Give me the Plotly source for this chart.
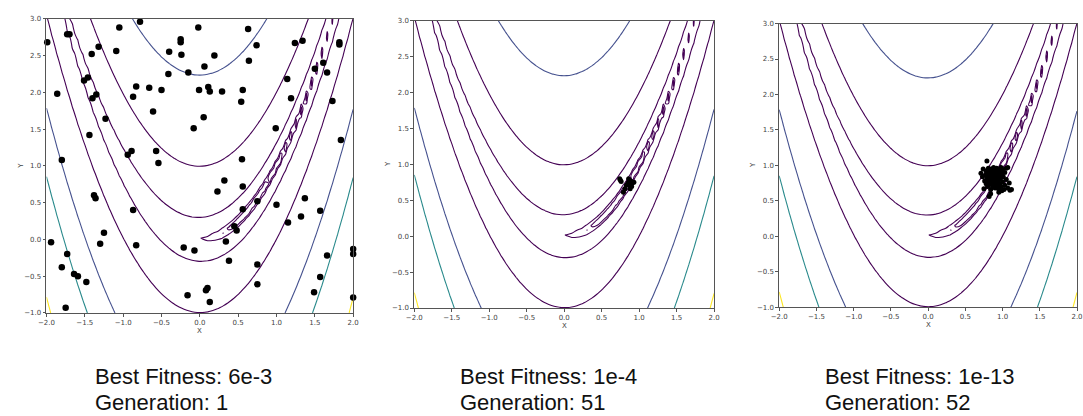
import numpy as np
import plotly.graph_objects as go

# contour levels and their viridis colours
levels = [0.5, 1, 10, 100, 500, 1000, 2300]
level_colors = ["#440154", "#440154", "#440154", "#440154", "#46528f", "#2a8a8c", "#fde725"]

# population, generation 1
gen1_x = [-1.99, -1.73, -1.70, -1.86, -1.80, -1.94, -1.73, -1.80, -1.64, -1.59, -1.75, -1.48,
          -1.51, -1.46, -1.41, -1.32, -1.40, -1.35, -1.23, -1.44, -1.38, -1.36, -1.25, -1.30,
          -1.05, -1.09, -0.78, -0.83, -0.87, -0.89, -0.94, -0.87, -0.83, -0.66, -0.50, -0.61,
          -0.57, -0.54, -0.40, -0.25, -0.25, -0.24, -0.41, -0.15, -0.02, 0.06, -0.01, 0.11,
          0.13, -0.08, 0.05, 0.19, 0.29, 0.63, 0.64, 0.74, 0.54, 0.56, 0.55, 0.56, 0.32, 0.23,
          0.56, 0.75, 0.45, 0.48, 0.34, 0.38, -0.21, -0.07, -0.16, 0.10, 0.08, 0.13, 0.75, 0.75,
          0.99, 1.00, 1.14, 1.19, 1.24, 1.34, 1.15, 1.32, 1.37, 1.50, 1.61, 1.66, 1.73, 1.82,
          1.82, 2.06, 1.57, 1.66, 1.57, 1.49, 1.84, 2.00, 2.00, 2.00]
gen1_y = [2.68, 2.79, 2.79, 1.98, 1.08, -0.04, -0.20, -0.38, -0.47, -0.50, -0.93, -0.58,
          2.16, 2.20, 2.52, 2.62, 1.92, 1.97, 1.64, 1.42, 0.60, 0.56, 0.09, -0.06,
          2.88, 2.56, 2.96, 2.08, 1.94, 1.20, 1.15, 0.40, -0.08, 2.06, 2.03, 1.74,
          1.20, 1.04, 2.55, 2.72, 2.68, 2.51, 2.25, 2.27, 2.88, 2.35, 2.03, 2.07,
          2.01, 1.51, 1.66, 2.50, 2.01, 2.86, 2.43, 2.64, 1.87, 2.03, 1.09, 0.72, 0.80, 0.65,
          0.41, 0.52, 0.18, 0.12, -0.03, -0.29, -0.11, -0.15, -0.76, -0.66, -0.69, -0.85, -0.34, -0.61,
          1.51, 0.47, 2.18, 1.92, 2.67, 2.70, 0.23, 0.31, 0.56, 2.32, 2.40, 2.27, 1.88, 2.68,
          2.65, 2.74, 0.39, -0.22, -0.51, -0.72, 1.35, -0.13, -0.20, -0.79]

# population, generation 51
gen51_x = [0.74, 0.75, 0.76, 0.79, 0.81, 0.83, 0.85, 0.86, 0.87, 0.88, 0.89, 0.90, 0.91, 0.93, 0.88]
gen51_y = [0.80, 0.78, 0.76, 0.61, 0.66, 0.71, 0.74, 0.80, 0.76, 0.71, 0.77, 0.69, 0.74, 0.75, 0.66]

# population, generation 52
gen52_x = [0.79, 0.71, 0.73, 0.74, 0.75, 0.76, 0.77, 0.78, 0.78, 0.79, 0.80, 0.80, 0.81, 0.81,
           0.82, 0.82, 0.83, 0.83, 0.84, 0.84, 0.85, 0.85, 0.86, 0.86, 0.87, 0.87, 0.88, 0.88,
           0.89, 0.89, 0.90, 0.90, 0.91, 0.91, 0.92, 0.92, 0.93, 0.93, 0.94, 0.94, 0.95, 0.95,
           0.96, 0.96, 0.97, 0.98, 0.98, 0.99, 1.00, 1.00, 1.01, 1.02, 1.03, 1.03, 1.05, 1.05,
           1.07, 1.07, 1.09, 1.10, 1.12, 0.84, 0.95, 0.99]
gen52_y = [1.06, 0.89, 0.84, 0.95, 0.67, 0.78, 0.86, 0.92, 0.74, 0.81, 0.88, 0.70, 0.96, 0.77,
           0.56, 0.84, 0.91, 0.73, 0.80, 0.66, 0.87, 0.95, 0.76, 0.83, 0.70, 0.90, 0.79, 0.97,
           0.85, 0.73, 0.92, 0.68, 0.81, 0.88, 0.75, 0.96, 0.84, 0.70, 0.90, 0.78, 0.86, 0.66,
           0.93, 0.74, 0.81, 0.97, 0.70, 0.88, 0.77, 0.94, 0.84, 0.66, 0.90, 0.72, 0.96, 0.80,
           0.97, 0.68, 0.75, 0.65, 0.66, 0.60, 0.62, 0.64]

best_fitness = ["6e-3", "1e-4", "1e-13"]
generations = [1, 51, 52]

x_ticks = [-2.0, -1.5, -1.0, -0.5, 0.0, 0.5, 1.0, 1.5, 2.0]
x_ticktext = ["\u22122.0", "\u22121.5", "\u22121.0", "\u22120.5", "0.0", "0.5", "1.0", "1.5", "2.0"]
y_ticks = [-1.0, -0.5, 0.0, 0.5, 1.0, 1.5, 2.0, 2.5, 3.0]
y_ticktext = ["\u22121.0", "\u22120.5", "0.0", "0.5", "1.0", "1.5", "2.0", "2.5", "3.0"]

# Rosenbrock surface on a 60x60 grid
grid_n = 60
grid_x = np.linspace(-2.0, 2.0, grid_n)
grid_y = np.linspace(-1.0, 3.0, grid_n)
GX, GY = np.meshgrid(grid_x, grid_y)
Z = (1 - GX) ** 2 + 100 * (GY - GX ** 2) ** 2

W, H = 1083, 416
# plot-area boxes in pixels: left, right, top, bottom
panels = [(38, 349, 15, 315), (411, 715, 17, 310), (781, 1083, 20, 309)]
populations = [(gen1_x, gen1_y, 6.5), (gen51_x, gen51_y, 5), (gen52_x, gen52_y, 5)]
text_left = [85, 455, 825]

fig = go.Figure()
tick_font = dict(family="DejaVu Sans", size=7, color="#444444")
label_font = dict(family="DejaVu Sans", size=7, color="#444444")
layout_axes = {}
annotations = []

for i, ((l, r, t, b), (px, py, msize)) in enumerate(zip(panels, populations)):
    sfx = "" if i == 0 else str(i + 1)
    xa, ya = "x" + sfx, "y" + sfx
    for lev, col in zip(levels, level_colors):
        fig.add_trace(go.Contour(
            x=grid_x, y=grid_y, z=Z, xaxis=xa, yaxis=ya,
            autocontour=False,
            contours=dict(start=lev, end=lev, size=1, coloring="none"),
            line=dict(color=col, width=1.1),
            showscale=False, hoverinfo="skip", showlegend=False,
        ))
    fig.add_trace(go.Scatter(
        x=px, y=py, xaxis=xa, yaxis=ya, mode="markers",
        marker=dict(color="black", size=msize, line=dict(width=0)),
        cliponaxis=False, showlegend=False,
    ))
    common = dict(showline=True, linecolor="#555555", linewidth=0.8, mirror=True,
                  ticks="outside", ticklen=3, tickwidth=0.8, tickcolor="#555555",
                  showgrid=False, zeroline=False, tickfont=tick_font)
    layout_axes["xaxis" + sfx] = dict(
        domain=[l / W, r / W], range=[-2, 2], anchor=ya,
        tickvals=x_ticks, ticktext=x_ticktext, **common)
    layout_axes["yaxis" + sfx] = dict(
        domain=[1 - b / H, 1 - t / H], range=[-1, 3], anchor=xa,
        tickvals=y_ticks, ticktext=y_ticktext, **common)
    # axis names
    annotations.append(dict(text="X", x=(l + r) / 2 / W, y=1 - (b + 18) / H,
                            xref="paper", yref="paper", xanchor="center", yanchor="middle",
                            showarrow=False, font=label_font))
    annotations.append(dict(text="Y", x=(l - 26) / W, y=1 - ((t + b) / 2) / H,
                            xref="paper", yref="paper", xanchor="center", yanchor="middle",
                            showarrow=False, textangle=-90, font=label_font))
    # captions
    for j, line in enumerate([f"Best Fitness: {best_fitness[i]}", f"Generation: {generations[i]}"]):
        annotations.append(dict(text=line, x=text_left[i] / W, y=1 - (380 + 26 * j) / H,
                                xref="paper", yref="paper", xanchor="left", yanchor="middle",
                                showarrow=False,
                                font=dict(family="Liberation Sans, Arial", size=22, color="#111111")))

fig.update_layout(
    width=W, height=H, autosize=False,
    margin=dict(l=0, r=0, t=0, b=0),
    paper_bgcolor="white", plot_bgcolor="white",
    annotations=annotations,
    **layout_axes,
)

fig.write_html("out.html")
